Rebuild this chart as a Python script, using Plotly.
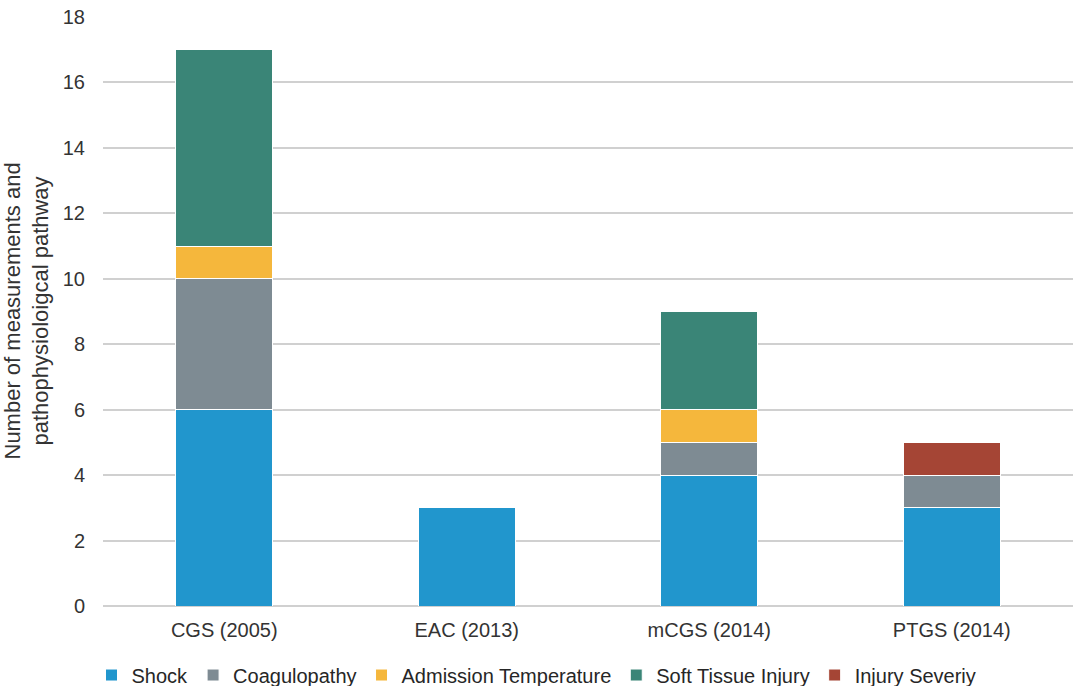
import plotly.graph_objects as go

categories = ["CGS (2005)", "EAC (2013)", "mCGS (2014)", "PTGS (2014)"]
shock = [6, 3, 4, 3]
coagulopathy = [4, 0, 1, 1]
admission_temp = [1, 0, 1, 0]
soft_tissue = [6, 0, 3, 0]
injury_severity = [0, 0, 0, 1]
series_names = ["Shock", "Coagulopathy", "Admission Temperature", "Soft Tissue Injury", "Injury Severiy"]
colors = ["#2196CD", "#7E8B93", "#F5B73C", "#3A8577", "#A54535"]
y_ticks = [0, 2, 4, 6, 8, 10, 12, 14, 16, 18]

fig = go.Figure()
for name, vals, col in zip(series_names,
                           [shock, coagulopathy, admission_temp, soft_tissue, injury_severity],
                           colors):
    fig.add_trace(go.Bar(
        x=categories, y=vals, name=name,
        marker=dict(color=col, line=dict(color="white", width=1)),
    ))

font_family = "Liberation Sans, Arial, sans-serif"
fig.update_layout(
    barmode="stack",
    bargap=0.6,
    width=1073, height=686,
    margin=dict(l=103, r=0, t=17, b=80),
    plot_bgcolor="white", paper_bgcolor="white",
    font=dict(family=font_family, size=20, color="#333333"),
    showlegend=True,
    legend=dict(
        orientation="h", xref="container", yref="container",
        x=0.5, xanchor="center", y=0.016, yanchor="middle",
        font=dict(size=20, color="#262626"),
        traceorder="normal", itemwidth=30,
    ),
    xaxis=dict(
        showgrid=False, showline=False, ticks="",
        tickfont=dict(size=20, color="#333333"),
        ticklabelstandoff=10,
    ),
    yaxis=dict(
        range=[0, 18], tickvals=y_ticks,
        showgrid=True, gridcolor="#D0D0D0", gridwidth=1.5,
        zeroline=True, zerolinecolor="#D0D0D0", zerolinewidth=1.5,
        showline=False, ticks="", ticklabelstandoff=17,
        tickfont=dict(size=20, color="#333333"),
    ),
    annotations=[dict(
        text="Number of measurements and<br>pathophysioloigcal pathway",
        xref="paper", yref="paper", x=(26 - 103) / 970, y=0.5,
        xanchor="center", yanchor="middle", textangle=-90, showarrow=False,
        font=dict(size=22, color="#333333"),
    )],
)

fig.write_html("out.html")
